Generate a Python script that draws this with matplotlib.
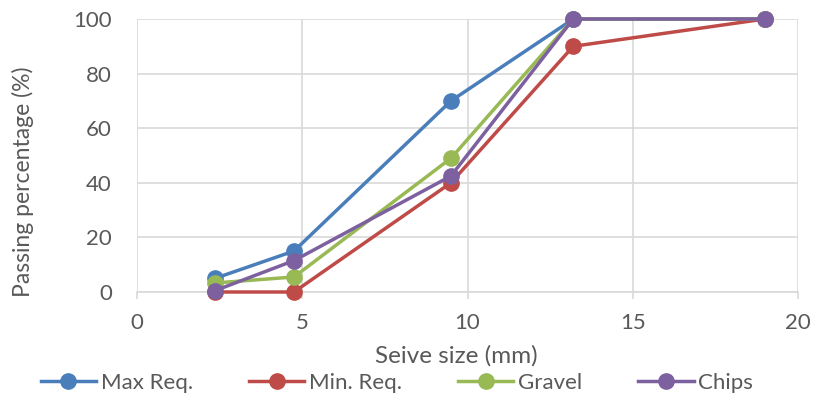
import matplotlib.pyplot as plt

# sieve sizes (mm) and passing percentages
sizes = [2.36, 4.75, 9.5, 13.2, 19]
max_req = [5, 15, 70, 100, 100]
min_req = [0, 0, 40, 90, 100]
gravel = [3.3, 5.5, 49, 100, 100]
chips = [0.5, 11.5, 42.5, 100, 100]

series = [("Max Req.", max_req, "#4a7ebb"),
          ("Min. Req.", min_req, "#be4b48"),
          ("Gravel", gravel, "#98b954"),
          ("Chips", chips, "#7d60a0")]

plt.rcParams['font.family'] = ['Lato', 'DejaVu Sans']
text_color = "#595959"
W, H = 813, 394

fig = plt.figure(figsize=(W / 100, H / 100), dpi=100)
ax = fig.add_axes([137 / W, 1 - 292 / H, 661 / W, 273 / H])

for name, vals, color in series:
    ax.plot(sizes, vals, '-o', color=color, lw=2.5, ms=11, label=name, clip_on=False, zorder=3)

ax.set_xlim(0, 20)
ax.set_ylim(0, 100)
ax.set_xticks(range(0, 21, 5))
ax.set_yticks(range(0, 101, 20))
ax.grid(True, color="#d9d9d9", lw=1.2)
ax.set_axisbelow(True)
for s in ["top", "right", "left"]:
    ax.spines[s].set_visible(False)
ax.spines["bottom"].set_color("#d9d9d9")
ax.spines["bottom"].set_linewidth(1.2)
ax.tick_params(axis="y", length=0, labelsize=16, colors=text_color, pad=18)
ax.tick_params(axis="x", length=5, color="#d9d9d9", width=1.2, direction="out",
               labelsize=16, labelcolor=text_color, pad=10)

# axis titles placed in pixel terms
ax.set_xlabel("Seive size (mm)", fontsize=17.5, color=text_color)
ax.xaxis.set_label_coords((456 - 137) / 661, -(356 - 292) / 273)
ax.xaxis.label.set_va("center")
fig.text(23 / W, 1 - 182 / H, "Passing percentage (%)", rotation=90, fontsize=16.5,
         color=text_color, ha="center", va="center")

fig.legend(loc="center", bbox_to_anchor=(397 / W, 1 - 383 / H), ncol=4, frameon=False,
           fontsize=16, labelcolor=text_color, handlelength=2.5, handletextpad=0.22,
           columnspacing=2.5, borderpad=0)

fig.savefig("out.png", dpi=100)
